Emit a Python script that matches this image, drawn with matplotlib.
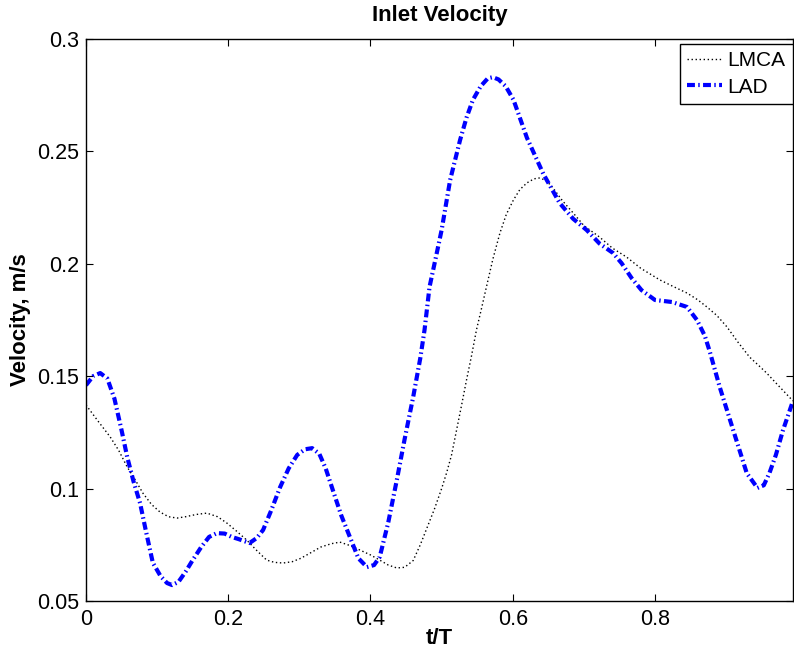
import numpy as np
import matplotlib.pyplot as plt

plt.rcParams.update({
    "font.family": ["Liberation Sans", "DejaVu Sans"],
    "font.size": 15,
    "axes.linewidth": 1.0,
    "xtick.direction": "in",
    "ytick.direction": "in",
    "xtick.top": True,
    "ytick.right": True,
    "xtick.major.size": 5,
    "ytick.major.size": 5,
})

# LAD (blue dash-dot)
lad_t = [0.000, 0.010, 0.020, 0.030, 0.040, 0.050, 0.058, 0.067, 0.076, 0.085,
         0.094, 0.105, 0.114, 0.121, 0.130, 0.140, 0.150, 0.162, 0.173, 0.184,
         0.195, 0.205, 0.215, 0.230, 0.240, 0.249, 0.260, 0.273, 0.285, 0.297,
         0.308, 0.318, 0.328, 0.337, 0.347, 0.359, 0.371, 0.383, 0.395, 0.405,
         0.413, 0.425, 0.437, 0.448, 0.460, 0.470, 0.476, 0.483, 0.492, 0.500,
         0.512, 0.526, 0.535, 0.544, 0.555, 0.565, 0.572, 0.580, 0.590, 0.601,
         0.620, 0.643, 0.666, 0.685, 0.704, 0.722, 0.741, 0.753, 0.767, 0.781,
         0.800, 0.824, 0.845, 0.859, 0.870, 0.877, 0.891, 0.910, 0.929, 0.944,
         0.953, 0.961, 0.970, 0.980, 0.994]
lad_v = [0.146, 0.150, 0.1514, 0.149, 0.140, 0.126, 0.114, 0.103, 0.0936, 0.080,
         0.067, 0.061, 0.0580, 0.0571, 0.0585, 0.063, 0.0682, 0.074, 0.0785, 0.0802,
         0.080, 0.0785, 0.0775, 0.0758, 0.078, 0.0816, 0.090, 0.1007, 0.109, 0.115,
         0.1175, 0.118, 0.1155, 0.109, 0.0994, 0.088, 0.0785, 0.069, 0.0651, 0.066,
         0.0696, 0.085, 0.1038, 0.122, 0.1407, 0.158, 0.1706, 0.1897, 0.203, 0.215,
         0.2373, 0.2551, 0.265, 0.2729, 0.279, 0.2825, 0.283, 0.282, 0.279, 0.273,
         0.256, 0.240, 0.227, 0.220, 0.215, 0.209, 0.2048, 0.2003, 0.1937, 0.1883,
         0.1839, 0.183, 0.1808, 0.175, 0.168, 0.161, 0.1452, 0.126, 0.1069, 0.1003,
         0.1015, 0.107, 0.115, 0.126, 0.139]

# LMCA (black dotted)
lmca_t = [0.000, 0.017, 0.034, 0.046, 0.058, 0.069, 0.080, 0.092, 0.104, 0.116,
          0.128, 0.140, 0.155, 0.170, 0.185, 0.198, 0.212, 0.226, 0.240, 0.254,
          0.265, 0.277, 0.290, 0.302, 0.315, 0.330, 0.345, 0.357, 0.370, 0.385,
          0.400, 0.413, 0.425, 0.437, 0.448, 0.460, 0.470, 0.480, 0.490, 0.500,
          0.507, 0.514, 0.521, 0.528, 0.535, 0.542, 0.549, 0.556, 0.563, 0.572,
          0.582, 0.591, 0.601, 0.610, 0.620, 0.630, 0.638, 0.647, 0.656, 0.670,
          0.685, 0.700, 0.722, 0.740, 0.760, 0.780, 0.807, 0.825, 0.845, 0.860,
          0.873, 0.887, 0.901, 0.917, 0.933, 0.945, 0.957, 0.970, 0.982, 0.994]
lmca_v = [0.1372, 0.130, 0.123, 0.117, 0.1096, 0.104, 0.098, 0.093, 0.0896, 0.0875,
          0.0869, 0.0875, 0.0885, 0.0891, 0.0875, 0.0847, 0.081, 0.0771, 0.0725, 0.0682,
          0.0672, 0.0669, 0.0675, 0.069, 0.0713, 0.074, 0.0755, 0.0762, 0.0748, 0.0727,
          0.0705, 0.0682, 0.066, 0.0647, 0.065, 0.068, 0.075, 0.083, 0.091, 0.100,
          0.107, 0.115, 0.126, 0.137, 0.1483, 0.159, 0.1706, 0.180, 0.1897, 0.202,
          0.2137, 0.222, 0.2284, 0.233, 0.236, 0.2378, 0.2382, 0.237, 0.234, 0.228,
          0.2226, 0.217, 0.2119, 0.207, 0.203, 0.198, 0.1928, 0.190, 0.187, 0.184,
          0.1808, 0.177, 0.172, 0.165, 0.1585, 0.155, 0.1514, 0.147, 0.143, 0.139]

fig = plt.figure(figsize=(7.94, 6.55), dpi=100)
ax = fig.add_axes([0.1083, 0.0824, 0.8904, 0.8581])

ax.plot(lmca_t, lmca_v, color="black", lw=1.0, dashes=(1.0, 1.9), label="LMCA")
ax.plot(lad_t, lad_v, color="blue", lw=3.0, dashes=(1.9, 0.8, 0.35, 0.8), label="LAD")

ax.set_xlim(0, 0.994)
ax.set_ylim(0.05, 0.3)
ax.set_xticks([0, 0.2, 0.4, 0.6, 0.8])
ax.set_xticklabels(["0", "0.2", "0.4", "0.6", "0.8"])
ax.set_yticks([0.05, 0.1, 0.15, 0.2, 0.25, 0.3])
ax.set_yticklabels(["0.05", "0.1", "0.15", "0.2", "0.25", "0.3"])
ax.tick_params(axis="x", labelsize=15.5, pad=6)
ax.tick_params(axis="y", labelsize=15.5, pad=5)

ax.set_title("Inlet Velocity", fontsize=16, fontweight="bold", pad=13)
ax.set_xlabel("t/T", fontsize=16, fontweight="bold", labelpad=-2)
ax.set_ylabel("Velocity, m/s", fontsize=16, fontweight="bold", labelpad=4)

leg = ax.legend(loc="upper right", bbox_to_anchor=(1.0, 0.991), fontsize=15,
                handlelength=1.7, handletextpad=0.25, labelspacing=0.35,
                borderpad=0.35, borderaxespad=0.0, fancybox=False, framealpha=1)
leg.get_frame().set_edgecolor("black")
leg.get_frame().set_linewidth(1.0)

fig.savefig("out.png", dpi=100)
